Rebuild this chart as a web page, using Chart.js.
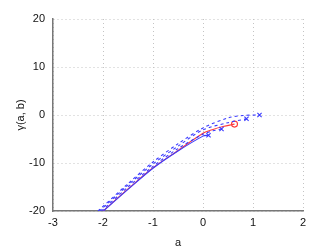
<!DOCTYPE html>
<html>
<head>
<meta charset="utf-8">
<script src="https://cdn.jsdelivr.net/npm/chart.js@4/dist/chart.umd.min.js"></script>
<style>
  html, body { margin: 0; padding: 0; background: #fff; }
  #wrap { width: 336px; height: 252px; }
</style>
</head>
<body>
<div id="wrap"><canvas id="gammaChart"></canvas></div>
<script>
// red solid curve, circle at the end
const aRed = [-2.0, -1.5, -1.0, -0.5, 0.0, 0.2, 0.4, 0.63];
const yRed = [-20, -15.4, -11.0, -7.4, -3.8, -3.0, -2.4, -1.9];

// blue solid curve
const aBlue = [-1.99, -1.5, -1.0, -0.5, 0.0, 0.11];
const yBlue = [-20, -15.5, -11.1, -7.5, -4.4, -4.2];

// blue dashed curves
const aDash1 = [-2.03, -1.5, -1.0, -0.5, 0.0, 0.2, 0.37];
const yDash1 = [-20, -15.0, -10.7, -7.0, -4.0, -3.3, -2.9];
const aDash2 = [-2.07, -1.5, -1.0, -0.5, 0.0, 0.5, 0.87];
const yDash2 = [-20, -14.6, -10.2, -6.5, -3.1, -1.6, -0.8];
const aDash3 = [-2.1, -1.5, -1.0, -0.5, 0.0, 0.5, 0.8, 1.13];
const yDash3 = [-20, -14.3, -9.8, -6.0, -2.7, -0.6, -0.1, 0.0];

const xTicks = [-3, -2, -1, 0, 1, 2];
const yTicks = [-20, -10, 0, 10, 20];

const RED = '#ff3b3b';
const BLUE = '#3a3aff';

function pts(xs, ys) {
  return xs.map((x, i) => ({ x: x, y: ys[i] }));
}

function curve(xs, ys, color, dash, marker) {
  const n = xs.length;
  return {
    data: pts(xs, ys),
    showLine: true,
    borderColor: color,
    borderWidth: 1.1,
    borderDash: dash,
    tension: 0.3,
    pointStyle: marker,
    pointRadius: ctx => ctx.dataIndex === n - 1 ? 3 : 0,
    pointBorderColor: color,
    pointBackgroundColor: 'rgba(0,0,0,0)',
    pointBorderWidth: 1.1
  };
}

Chart.defaults.font.family = '"Liberation Sans", Arial, sans-serif';
Chart.defaults.font.size = 11;
Chart.defaults.color = '#111';

new Chart(document.getElementById('gammaChart'), {
  type: 'scatter',
  data: {
    datasets: [
      curve(aDash3, yDash3, BLUE, [3, 3], 'crossRot'),
      curve(aDash2, yDash2, BLUE, [3, 3], 'crossRot'),
      curve(aDash1, yDash1, BLUE, [3, 3], 'crossRot'),
      curve(aBlue, yBlue, BLUE, [], 'crossRot'),
      curve(aRed, yRed, RED, [], 'circle')
    ]
  },
  options: {
    responsive: true,
    maintainAspectRatio: false,
    animation: false,
    layout: { padding: { top: 19, right: 33, bottom: 0, left: 0 } },
    plugins: { legend: { display: false }, tooltip: { enabled: false } },
    scales: {
      x: {
        type: 'linear',
        min: -3, max: 2,
        afterBuildTicks: s => { s.ticks = xTicks.map(v => ({ value: v })); },
        afterFit: s => { s.height = 41; },
        ticks: { padding: 5 },
        grid: { color: '#c4c4c4', drawTicks: false },
        border: { color: '#777', width: 1.5, dash: [1, 3] },
        title: { display: true, text: 'a', padding: { top: 0, bottom: 2 } }
      },
      y: {
        type: 'linear',
        min: -20, max: 20,
        afterBuildTicks: s => { s.ticks = yTicks.map(v => ({ value: v })); },
        afterFit: s => { s.width = 53; },
        ticks: { padding: 8 },
        grid: { color: '#c4c4c4', drawTicks: false },
        border: { color: '#777', width: 1.5, dash: [1, 3] },
        title: { display: true, text: 'γ(a, b)', padding: { top: 14, bottom: 0 } }
      }
    }
  }
});
</script>
</body>
</html>
